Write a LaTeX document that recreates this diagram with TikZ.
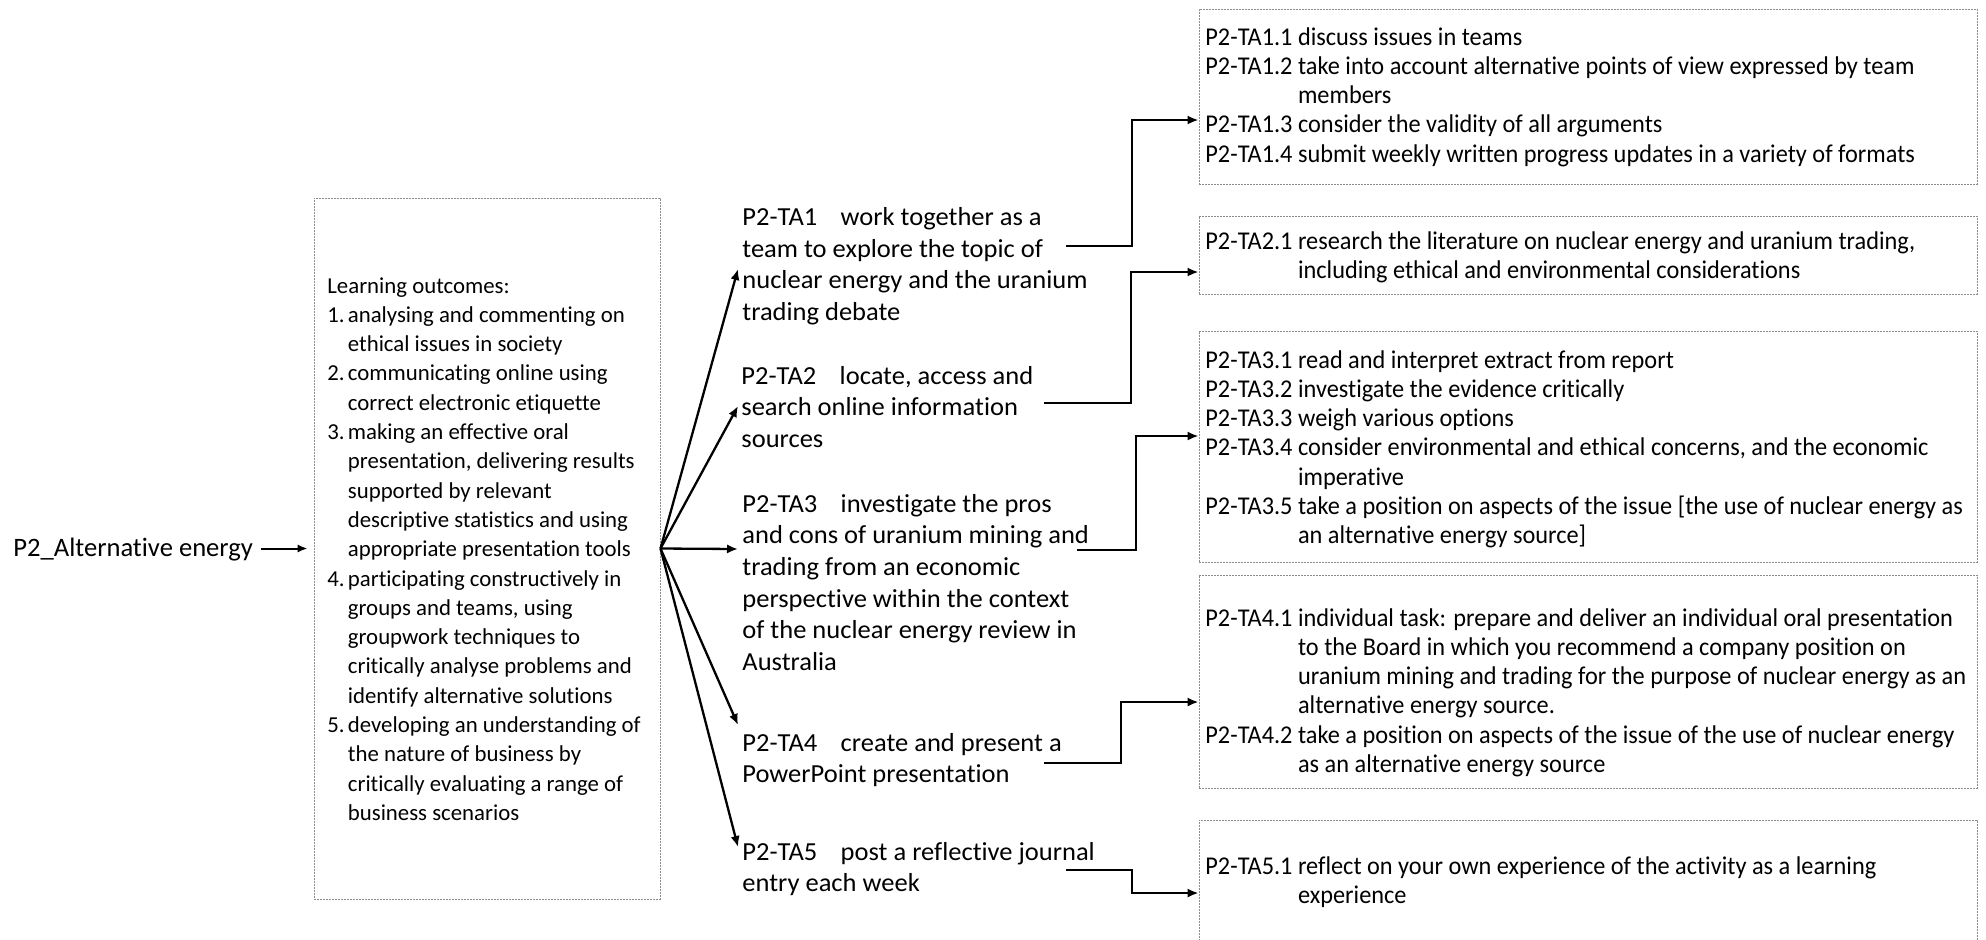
\documentclass[tikz,border=0pt]{standalone}
\usepackage{fontspec}
\setmainfont[Ligatures=NoCommon]{Carlito}
\newfontfamily\midfont[FakeStretch=1.02,Ligatures=NoCommon]{Carlito}
\newfontfamily\rfont[FakeStretch=0.95,Ligatures=NoCommon]{Carlito}
\usetikzlibrary{arrows.meta,fit}
\definecolor{boxgray}{HTML}{8C8C8C}
\newcommand{\tagsep}{\hspace{0.9em}}
\begin{document}
\begin{tikzpicture}[x=0.5pt,y=-0.5pt,
  dotbox/.style={draw=boxgray, line width=0.5pt, dash pattern=on 0.8pt off 0.7pt, inner sep=0pt},
  conn/.style={line width=1.15pt, -{Latex[length=5.5pt,width=4.6pt]}},
  lofont/.style={font=\fontsize{11.4pt}{14.65pt}\selectfont},
  rtext/.style={anchor=base west, inner sep=0pt, font=\rfont\fontsize{12.8pt}{14.65pt}\selectfont},
  mtext/.style={anchor=base west, inner sep=0pt, font=\midfont\fontsize{13pt}{15.85pt}\selectfont},
]
\useasboundingbox (0,0) rectangle (1986,939);

% source
\node[anchor=base west, inner sep=0pt, font=\fontsize{13.3pt}{15.85pt}\selectfont] (src) at (13,556) {P2\_Alternative energy};

% learning outcomes box
\node[dotbox, fit={(314,198) (660,899)}] (lo) {};
\node[anchor=base west, inner sep=0pt, lofont] (lotext) at (327,293) {%
\begin{tabular}[t]{@{}l@{\hspace{1.6pt}}l@{}}
\multicolumn{2}{@{}l@{}}{Learning outcomes:}\\
1. & analysing and commenting on\\
   & ethical issues in society\\
2. & communicating online using\\
   & correct electronic etiquette\\
3. & making an effective oral\\
   & presentation, delivering results\\
   & supported by relevant\\
   & descriptive statistics and using\\
   & appropriate presentation tools\\
4. & participating constructively in\\
   & groups and teams, using\\
   & groupwork techniques to\\
   & critically analyse problems and\\
   & identify alternative solutions\\
5. & developing an understanding of\\
   & the nature of business by\\
   & critically evaluating a range of\\
   & business scenarios
\end{tabular}};

\draw[line width=1pt, -{Latex[length=5pt,width=4.2pt]}] (src.east |- lo.west) ++(4pt,0) -- ([xshift=-3pt]lo.west);

% middle task nodes
\node[mtext] (ta1) at (742,225.5) {\begin{tabular}[t]{@{}l@{}}
P2-TA1\tagsep work together as a\\
team to explore the topic of\\
nuclear energy and the uranium\\
trading debate\end{tabular}};
\node[mtext] (ta2) at (741,384) {\begin{tabular}[t]{@{}l@{}}
P2-TA2\tagsep locate, access and\\
search online information\\
sources\end{tabular}};
\node[mtext] (ta3) at (742,512) {\begin{tabular}[t]{@{}l@{}}
P2-TA3\tagsep investigate the pros\\
and cons of uranium mining and\\
trading from an economic\\
perspective within the context\\
of the nuclear energy review in\\
Australia\end{tabular}};
\node[mtext] (ta4) at (742,751) {\begin{tabular}[t]{@{}l@{}}
P2-TA4\tagsep create and present a\\
PowerPoint presentation\end{tabular}};
\node[mtext] (ta5) at (742,860) {\begin{tabular}[t]{@{}l@{}}
P2-TA5\tagsep post a reflective journal\\
entry each week\end{tabular}};

% fan arrows
\coordinate (f1) at (738,269);
\coordinate (f2) at (738,406);
\coordinate (f3) at (738,549);
\coordinate (f4) at (738,725);
\coordinate (f5) at (738,847);
\foreach \i in {1,...,5} \draw[conn] (lo.east) -- (f\i);

% right boxes
\node[dotbox, fit={(1199,9) (1977,184)}] (b1) {};
\node[dotbox, fit={(1199,216) (1977,294)}] (b2) {};
\node[dotbox, fit={(1199,331) (1977,562)}] (b3) {};
\node[dotbox, fit={(1199,575) (1977,788)}] (b4) {};
\node[dotbox, fit={(1199,820) (1977,960)}] (b5) {};

\node[rtext] (r1) at (1205,45) {\begin{tabular}[t]{@{}l@{ }l@{}}
P2-TA1.1 & discuss issues in teams\\
P2-TA1.2 & take into account alternative points of view expressed by team\\
         & members\\
P2-TA1.3 & consider the validity of all arguments\\
P2-TA1.4 & submit weekly written progress updates in a variety of formats
\end{tabular}};
\node[rtext] (r2) at (1205,249) {\begin{tabular}[t]{@{}l@{ }l@{}}
P2-TA2.1 & research the literature on nuclear energy and uranium trading,\\
         & including ethical and environmental considerations
\end{tabular}};
\node[rtext] (r3) at (1205,368) {\begin{tabular}[t]{@{}l@{ }l@{}}
P2-TA3.1 & read and interpret extract from report\\
P2-TA3.2 & investigate the evidence critically\\
P2-TA3.3 & weigh various options\\
P2-TA3.4 & consider environmental and ethical concerns, and the economic\\
         & imperative\\
P2-TA3.5 & take a position on aspects of the issue [the use of nuclear energy as\\
         & an alternative energy source]
\end{tabular}};
\node[rtext] (r4) at (1205,626) {\begin{tabular}[t]{@{}l@{ }l@{}}
P2-TA4.1 & individual task: prepare and deliver an individual oral presentation\\
         & to the Board in which you recommend a company position on\\
         & uranium mining and trading for the purpose of nuclear energy as an\\
         & alternative energy source.\\
P2-TA4.2 & take a position on aspects of the issue of the use of nuclear energy\\
         & as an alternative energy source
\end{tabular}};
\node[rtext] (r5) at (1205,874) {\begin{tabular}[t]{@{}l@{ }l@{}}
P2-TA5.1 & reflect on your own experience of the activity as a learning\\
         & experience
\end{tabular}};

% elbow connectors
\coordinate (s1) at (1066,246); \coordinate (k1) at (1132,120);
\coordinate (s2) at (1044,403); \coordinate (k2) at (1131,272);
\coordinate (s3) at (1077,550); \coordinate (k3) at (1136,436);
\coordinate (s4) at (1044,763); \coordinate (k4) at (1121,702);
\coordinate (s5) at (1066,870); \coordinate (k5) at (1132,893);
\draw[conn] (s1) -| (k1) -- (b1.west |- k1);
\draw[conn] (s2) -| (k2) -- (b2.west |- k2);
\draw[conn] (s3) -| (k3) -- (b3.west |- k3);
\draw[conn] (s4) -| (k4) -- (b4.west |- k4);
\draw[conn] (s5) -| (k5) -- (b5.west |- k5);
\end{tikzpicture}
\end{document}
